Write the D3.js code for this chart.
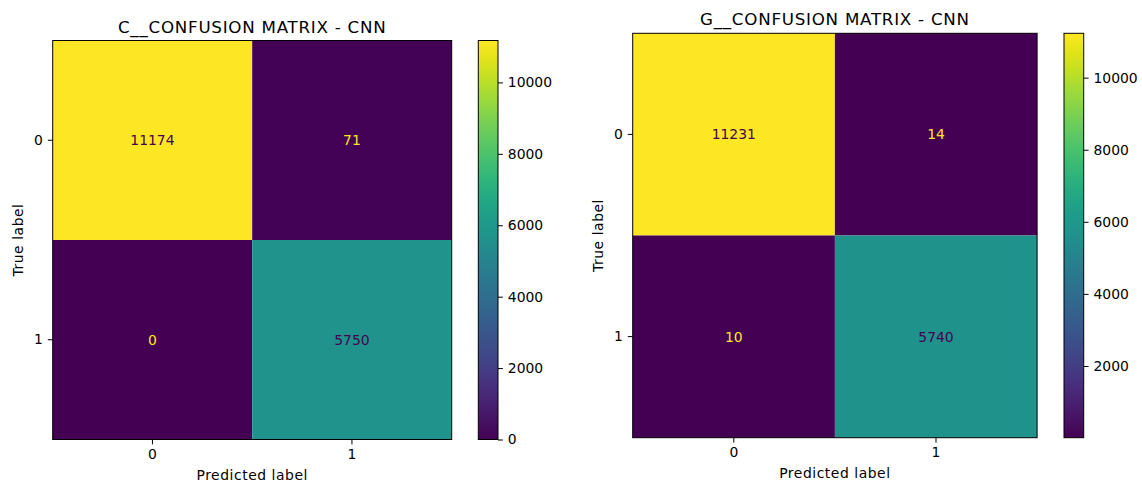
<!DOCTYPE html>
<html>
<head>
<meta charset="utf-8">
<script src="https://cdn.jsdelivr.net/npm/d3@7"></script>
<style>
  body { margin: 0; background: #fff; }
  svg { display: block; font-family: "DejaVu Sans", sans-serif; }
</style>
</head>
<body>
<svg id="chart" width="1142" height="485"></svg>
<script>
// data
const classLabels = ["0", "1"];
const cTitle = "C__CONFUSION MATRIX - CNN";
const cMatrix = [[11174, 71], [0, 5750]];
const gTitle = "G__CONFUSION MATRIX - CNN";
const gMatrix = [[11231, 14], [10, 5740]];
const colorbarTicks = [0, 2000, 4000, 6000, 8000, 10000];

const svg = d3.select("#chart");
const fontSize = 13.9;
const tickLen = 4.9;

function drawPanel(id, title, matrix, box) {
  const g = svg.append("g").attr("transform", "translate(" + box.x + "," + box.y + ")");
  const flat = matrix.flat();
  const vmin = d3.min(flat), vmax = d3.max(flat);
  const color = d3.scaleSequential(d3.interpolateViridis).domain([vmin, vmax]);
  const thresh = (vmin + vmax) / 2;

  const x = d3.scaleBand().domain(classLabels).range([0, box.size]);
  const y = d3.scaleBand().domain(classLabels).range([0, box.size]);

  const cells = [];
  matrix.forEach((row, i) => row.forEach((v, j) => cells.push({t: classLabels[i], p: classLabels[j], v: v})));

  g.selectAll("rect.cell").data(cells).join("rect")
    .attr("class", "cell")
    .attr("x", d => x(d.p))
    .attr("y", d => y(d.t))
    .attr("width", x.bandwidth())
    .attr("height", y.bandwidth())
    .attr("fill", d => color(d.v));

  // text colour flips at the middle of the range, like matplotlib does
  g.selectAll("text.val").data(cells).join("text")
    .attr("class", "val")
    .attr("x", d => x(d.p) + x.bandwidth() / 2)
    .attr("y", d => y(d.t) + y.bandwidth() / 2)
    .attr("text-anchor", "middle")
    .attr("dominant-baseline", "central")
    .attr("font-size", fontSize)
    .attr("fill", d => d.v < thresh ? color(vmax) : color(vmin))
    .text(d => d.v);

  g.append("rect")
    .attr("width", box.size).attr("height", box.size)
    .attr("fill", "none").attr("stroke", "#000").attr("stroke-width", 1);

  // axes
  const xAxis = g.append("g").attr("transform", "translate(0," + box.size + ")")
    .call(d3.axisBottom(x).tickSize(tickLen).tickPadding(4.9));
  const yAxis = g.append("g")
    .call(d3.axisLeft(y).tickSize(tickLen).tickPadding(4.9));
  [xAxis, yAxis].forEach(a => {
    a.select(".domain").remove();
    a.selectAll("text").attr("font-size", fontSize).attr("fill", "#000")
      .attr("font-family", "DejaVu Sans");
    a.selectAll("line").attr("stroke", "#000").attr("stroke-width", 1);
  });

  g.append("text")
    .attr("x", box.size / 2).attr("y", -8)
    .attr("text-anchor", "middle")
    .attr("font-size", 16.7)
    .attr("letter-spacing", 0.75)
    .text(title);

  g.append("text")
    .attr("x", box.size / 2).attr("y", box.size + 40)
    .attr("text-anchor", "middle")
    .attr("font-size", fontSize)
    .attr("letter-spacing", 0.55)
    .text("Predicted label");

  g.append("text")
    .attr("transform", "translate(" + (-30) + "," + (box.size / 2) + ")rotate(-90)")
    .attr("text-anchor", "middle")
    .attr("font-size", fontSize)
    .attr("letter-spacing", 0.55)
    .text("True label");

  // colorbar
  const cb = svg.append("g").attr("transform", "translate(" + box.cbX + "," + box.y + ")");
  const grad = svg.append("defs").append("linearGradient")
    .attr("id", "grad-" + id)
    .attr("x1", 0).attr("y1", 1).attr("x2", 0).attr("y2", 0);
  d3.range(0, 1.0001, 0.05).forEach(t => {
    grad.append("stop").attr("offset", t).attr("stop-color", d3.interpolateViridis(t));
  });
  cb.append("rect")
    .attr("width", box.cbW).attr("height", box.size)
    .attr("fill", "url(#grad-" + id + ")")
    .attr("stroke", "#000").attr("stroke-width", 1);

  const cbScale = d3.scaleLinear().domain([vmin, vmax]).range([box.size, 0]);
  const cbAxis = cb.append("g").attr("transform", "translate(" + box.cbW + ",0)")
    .call(d3.axisRight(cbScale)
      .tickValues(colorbarTicks.filter(t => t >= vmin && t <= vmax))
      .tickFormat(d3.format("d"))
      .tickSize(tickLen).tickPadding(4.9));
  cbAxis.select(".domain").remove();
  cbAxis.selectAll("text").attr("font-size", fontSize).attr("fill", "#000")
    .attr("font-family", "DejaVu Sans");
  cbAxis.selectAll("line").attr("stroke", "#000").attr("stroke-width", 1);
}

drawPanel("c", cTitle, cMatrix, {x: 52.7, y: 40.5, size: 399, cbX: 478.3, cbW: 19.7});
drawPanel("g", gTitle, gMatrix, {x: 632.7, y: 33.3, size: 404.4, cbX: 1064, cbW: 19.7});
</script>
</body>
</html>
